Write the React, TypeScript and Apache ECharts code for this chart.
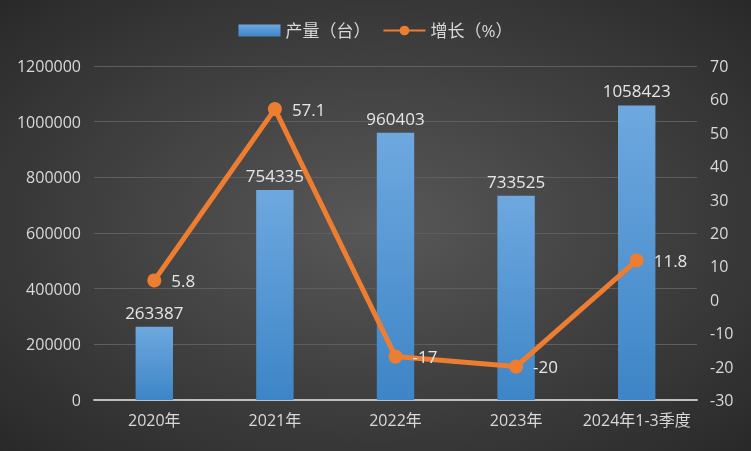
import React, { useEffect, useRef } from "react";
import * as echarts from "echarts";

const categories = ["2020年", "2021年", "2022年", "2023年", "2024年1-3季度"];
const output = [263387, 754335, 960403, 733525, 1058423];
const growth = [5.8, 57.1, -17, -20, 11.8];

export default function App() {
  const ref = useRef<HTMLDivElement>(null);
  useEffect(() => {
    if (!ref.current) return;
    const chart = echarts.init(ref.current, null, { renderer: "svg" });
    const font = "'Open Sans', 'Noto Sans CJK SC', sans-serif";
    chart.setOption({
      animation: false,
      backgroundColor: new echarts.graphic.RadialGradient(0.5, 0.5, 0.75, [
        { offset: 0, color: "#585858" },
        { offset: 1, color: "#262626" },
      ]),
      textStyle: { fontFamily: font },
      legend: {
        top: 17,
        left: "center",
        itemGap: 12,
        itemWidth: 42,
        itemHeight: 12,
        textStyle: { color: "#d9d9d9", fontSize: 17, fontFamily: font },
        data: [
          { name: "产量（台）", icon: "rect" },
          { name: "增长（%）" },
        ],
      },
      grid: { left: 94, right: 54, top: 66, bottom: 51, containLabel: false },
      xAxis: {
        type: "category",
        data: categories,
        axisLine: { lineStyle: { color: "#bfbfbf", width: 2 } },
        axisTick: { show: false },
        axisLabel: { color: "#d9d9d9", fontSize: 16, margin: 12, interval: 0, fontFamily: font },
      },
      yAxis: [
        {
          type: "value",
          min: 0,
          max: 1200000,
          interval: 200000,
          axisLine: { show: false },
          axisTick: { show: false },
          axisLabel: {
            color: "#d9d9d9",
            fontSize: 16,
            margin: 13,
            fontFamily: font,
            formatter: (v: number) => String(v),
          },
          splitLine: { lineStyle: { color: "#5e5e5e", width: 1 } },
        },
        {
          type: "value",
          min: -30,
          max: 70,
          interval: 10,
          axisLine: { show: false },
          axisTick: { show: false },
          axisLabel: { color: "#d9d9d9", fontSize: 16, margin: 13, fontFamily: font },
          splitLine: { show: false },
        },
      ],
      series: [
        {
          name: "产量（台）",
          type: "bar",
          data: output,
          barWidth: "31%",
          itemStyle: {
            color: new echarts.graphic.LinearGradient(0, 0, 0, 1, [
              { offset: 0, color: "#6ea8df" },
              { offset: 1, color: "#3d85c7" },
            ]),
          },
          label: {
            show: true,
            position: "top",
            distance: 6,
            color: "#e6e6e6",
            fontSize: 17,
            fontFamily: font,
          },
        },
        {
          name: "增长（%）",
          type: "line",
          yAxisIndex: 1,
          data: growth,
          symbol: "circle",
          symbolSize: 14,
          lineStyle: { color: "#ed7d31", width: 5 },
          itemStyle: { color: "#ed7d31" },
          label: {
            show: true,
            position: "right",
            distance: 10,
            color: "#e6e6e6",
            fontSize: 17,
            fontFamily: font,
          },
        },
      ],
    });
    return () => chart.dispose();
  }, []);
  return <div ref={ref} style={{ width: 751, height: 451, position: "fixed", left: 0, top: 0 }} />;
}
